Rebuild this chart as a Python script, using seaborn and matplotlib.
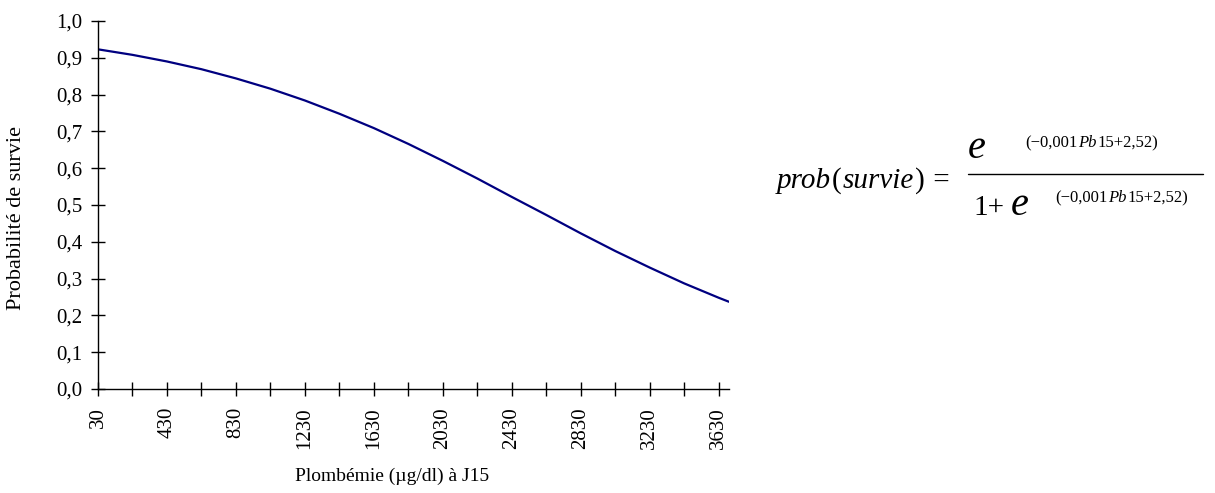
import matplotlib
matplotlib.use("Agg")
import matplotlib.pyplot as plt
import seaborn as sns
import pandas as pd

# Blood lead level at day 15 (µg/dl) and estimated survival probability
plombemie = [30, 230, 430, 630, 830, 1030, 1230, 1430, 1630, 1830, 2030,
             2230, 2430, 2630, 2830, 3030, 3230, 3430, 3630, 3690]
survie = [0.923, 0.908, 0.890, 0.869, 0.844, 0.816, 0.784, 0.748, 0.709,
          0.666, 0.620, 0.572, 0.522, 0.473, 0.423, 0.375, 0.330, 0.287,
          0.248, 0.237]

x_ticks = [30 + 200 * i for i in range(19)]
x_labels = [str(v) if (v - 30) % 400 == 0 else "" for v in x_ticks]
y_ticks = [i / 10 for i in range(11)]
y_labels = [f"{v:.1f}".replace(".", ",") for v in y_ticks]

sns.set_style("ticks")
plt.rcParams["font.family"] = ["Liberation Serif", "DejaVu Serif"]
plt.rcParams["text.color"] = "black"
plt.rcParams["axes.labelcolor"] = "black"
plt.rcParams["xtick.color"] = "black"
plt.rcParams["ytick.color"] = "black"

df = pd.DataFrame({"Plombémie": plombemie, "Survie": survie})

W, H = 1215, 493
fig = plt.figure(figsize=(W / 100, H / 100), dpi=100)
ax = fig.add_axes([98 / W, 1 - 389 / H, (729 - 98) / W, (389 - 21) / H])

sns.lineplot(data=df, x="Plombémie", y="Survie", ax=ax, color="#000080",
             linewidth=1.6)

ax.set_xlim(30, 3690)
ax.set_ylim(0, 1.0)
ax.set_xticks(x_ticks)
ax.set_xticklabels(x_labels, rotation=90, fontsize=15)
ax.set_yticks(y_ticks)
ax.set_yticklabels(y_labels, fontsize=15)
ax.tick_params(axis="both", direction="inout", length=10, width=1.0,
               bottom=True, left=True)
ax.tick_params(axis="y", pad=6)
ax.tick_params(axis="x", pad=8)

sns.despine(ax=ax)
for side in ("left", "bottom"):
    ax.spines[side].set_color("black")
    ax.spines[side].set_linewidth(1.0)

ax.set_xlabel("")
ax.set_ylabel("")
fig.text(392 / W, 1 - 476 / H, "Plombémie (µg/dl) à J15", fontsize=14,
         ha="center", va="center")
fig.text(17 / W, 1 - 218 / H, "Probabilité de survie", fontsize=16,
         rotation=90, ha="center", va="center")

# Logistic model written as a fraction to the right of the plot
renderer = fig.canvas.get_renderer()


def write_row(x0, y0, pieces):
    """Write text pieces one after another on a shared baseline (pixels)."""
    x = x0
    for txt, size, italic in pieces:
        t = fig.text(x / W, 1 - y0 / H, txt, fontsize=size,
                     style="italic" if italic else "normal",
                     ha="left", va="baseline")
        x = t.get_window_extent(renderer).x1 + 1
    return x


write_row(777, 188, [("prob", 21, True), ("(", 21, False),
                     ("survie", 21, True), (")", 21, False),
                     (" =", 21, False)])

fig.add_artist(plt.Line2D([968 / W, 1203 / W], [1 - 174 / H, 1 - 174 / H],
                          transform=fig.transFigure, color="black",
                          linewidth=1.0))

exponent = [("(−0,001", 12, False), ("Pb", 12, True),
            ("15+2,52)", 12, False)]

fig.text(968 / W, 1 - 158 / H, "e", fontsize=29, style="italic",
         ha="left", va="baseline")
write_row(1025, 147, exponent)

write_row(973, 215, [("1+", 21, False)])
fig.text(1011 / W, 1 - 215 / H, "e", fontsize=29, style="italic",
         ha="left", va="baseline")
write_row(1055, 202, exponent)

fig.savefig("out.png", dpi=100)
